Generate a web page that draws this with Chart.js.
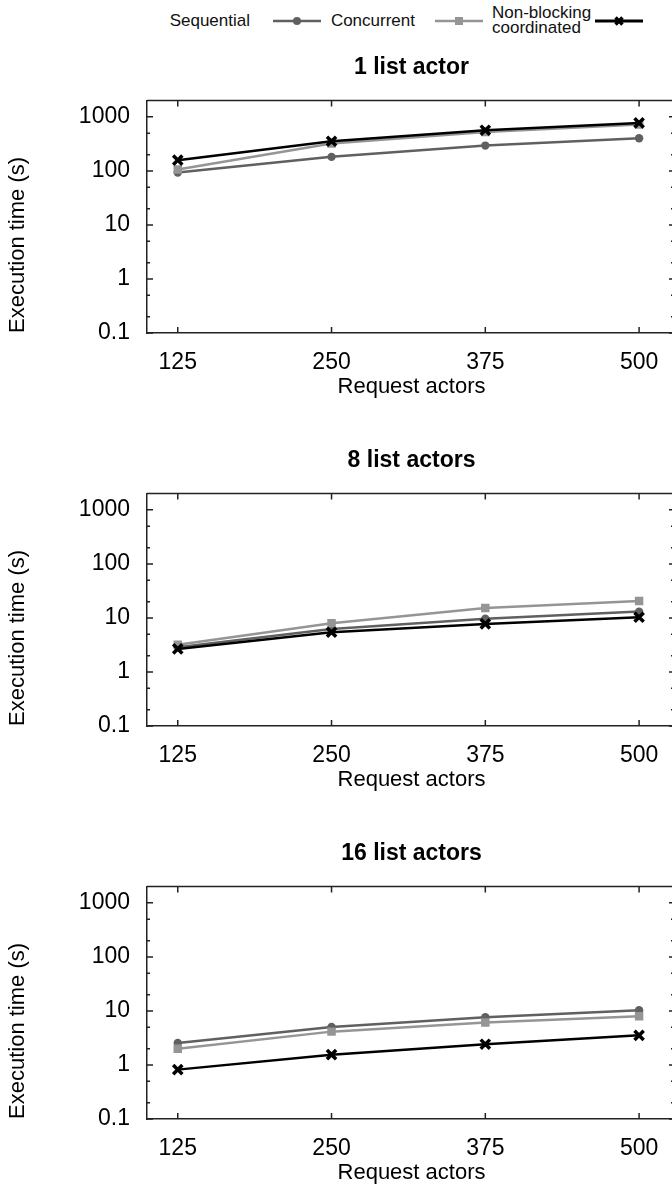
<!DOCTYPE html>
<html>
<head>
<meta charset="utf-8">
<title>Execution time vs request actors</title>
<script src="https://cdn.jsdelivr.net/npm/chart.js@4.4.1/dist/chart.umd.min.js"></script>
<style>
  html, body { margin: 0; padding: 0; background: #fff; }
  body {
    width: 672px; height: 1200px; overflow: hidden; position: relative;
    font-family: 'Liberation Sans', Arial, sans-serif;
  }
  /* canvases run a little past the right edge so the frame's right side is cut off */
  .panel { position: absolute; left: 0; width: 676px; height: 392px; }
  .key { position: absolute; top: 0; left: 0; width: 672px; height: 40px; font-size: 17px; color: #111; }
  .key span { position: absolute; white-space: nowrap; line-height: 20px; }
  .key .two { line-height: 15px; }
  .key svg { position: absolute; }
</style>
</head>
<body>

<div class="key">
  <span style="right: 422px; top: 11px;">Sequential</span>
  <svg style="left: 273px; top: 13px;" width="48" height="16">
    <line x1="0" y1="8" x2="48" y2="8" stroke="#606060" stroke-width="2.5"/>
    <circle cx="24" cy="8" r="4" fill="#606060"/>
  </svg>
  <span style="right: 257px; top: 11px;">Concurrent</span>
  <svg style="left: 435px; top: 13px;" width="48" height="16">
    <line x1="0" y1="8" x2="48" y2="8" stroke="#959595" stroke-width="2.5"/>
    <rect x="20" y="4" width="8" height="8" fill="#959595"/>
  </svg>
  <span class="two" style="left: 492px; top: 5px;">Non-blocking<br>coordinated</span>
  <svg style="left: 595px; top: 13px;" width="48" height="16">
    <line x1="0" y1="8" x2="48" y2="8" stroke="#000" stroke-width="3"/>
    <path d="M20.5 4.5 L27.5 11.5 M27.5 4.5 L20.5 11.5" stroke="#000" stroke-width="3.5"/>
  </svg>
</div>

<canvas id="panel1" class="panel" width="676" height="392" style="top: 40px;"></canvas>
<canvas id="panel2" class="panel" width="676" height="392" style="top: 433px;"></canvas>
<canvas id="panel3" class="panel" width="676" height="392" style="top: 826px;"></canvas>

<script>
// x categories and y tick marks
const requestActors = [125, 250, 375, 500];
const yTickValues = [0.1, 1, 10, 100, 1000];
const yMinorTicks = [0.2, 0.5, 2, 5, 20, 50, 200, 500];
const panelTitles = ['1 list actor', '8 list actors', '16 list actors'];
const seriesNames = ['Sequential', 'Concurrent', 'Non-blocking coordinated'];

// execution time (s), 1 list actor
const sequential1 = [93, 182, 294, 403];
const concurrent1 = [106, 321, 527, 721];
const nonBlocking1 = [158, 354, 566, 774];

// 8 list actors
const sequential8 = [2.86, 6.25, 9.7, 13.1];
const concurrent8 = [3.2, 7.96, 15.3, 20.6];
const nonBlocking8 = [2.67, 5.43, 7.74, 10.3];

// 16 list actors
const sequential16 = [2.55, 5.05, 7.63, 10.3];
const concurrent16 = [2.0, 4.14, 6.08, 7.96];
const nonBlocking16 = [0.82, 1.55, 2.42, 3.54];

const FONT = "'Liberation Sans', Arial, sans-serif";
const FRAME = '#222';

// gnuplot-style frame: top/right edges plus inward ticks on all four sides
const frameTicks = {
    id: 'frameTicks',
    beforeDatasetsDraw(chart) {
        const { ctx, chartArea: a, scales: { x, y } } = chart;
        ctx.save();
        ctx.strokeStyle = FRAME;
        ctx.lineWidth = 1.5;
        ctx.beginPath();
        ctx.moveTo(a.left, a.top);
        ctx.lineTo(a.right, a.top);
        ctx.lineTo(a.right, a.bottom);

        requestActors.forEach(v => {
            const px = x.getPixelForValue(v);
            ctx.moveTo(px, a.bottom); ctx.lineTo(px, a.bottom - 6);
            ctx.moveTo(px, a.top); ctx.lineTo(px, a.top + 6);
        });
        yTickValues.forEach(v => {
            const py = y.getPixelForValue(v);
            ctx.moveTo(a.left, py); ctx.lineTo(a.left + 6, py);
            ctx.moveTo(a.right, py); ctx.lineTo(a.right - 7, py);
        });
        yMinorTicks.forEach(v => {
            const py = y.getPixelForValue(v);
            ctx.moveTo(a.left, py); ctx.lineTo(a.left + 3, py);
            ctx.moveTo(a.right, py); ctx.lineTo(a.right - 5, py);
        });
        ctx.stroke();
        ctx.restore();
    }
};

function series(label, values, color, pointStyle, radius, width, order) {
    return {
        label,
        data: requestActors.map((x, i) => ({ x, y: values[i] })),
        borderColor: color,
        backgroundColor: color,
        borderWidth: width,
        pointStyle,
        pointRadius: radius,
        pointBorderWidth: pointStyle === 'crossRot' ? 3.5 : 0,
        pointBackgroundColor: color,
        pointBorderColor: color,
        tension: 0,
        order
    };
}

function makePanel(id, title, seq, conc, nb) {
    new Chart(document.getElementById(id), {
        type: 'line',
        data: {
            datasets: [
                series(seriesNames[0], seq, '#606060', 'circle', 4.2, 2.5, 3),
                series(seriesNames[1], conc, '#959595', 'rect', 6, 2.5, 2),
                series(seriesNames[2], nb, '#000000', 'crossRot', 6.5, 2.5, 1)
            ]
        },
        options: {
            responsive: false,
            animation: false,
            devicePixelRatio: 1,
            layout: { padding: 0, autoPadding: false },
            plugins: {
                legend: { display: false },
                tooltip: { enabled: false },
                title: {
                    display: true,
                    fullSize: false,
                    text: title,
                    color: '#000',
                    font: { family: FONT, size: 23, weight: 'bold' },
                    padding: { top: 14, bottom: 19 }
                }
            },
            scales: {
                x: {
                    type: 'linear',
                    min: 100,
                    max: 530,
                    afterBuildTicks: s => { s.ticks = requestActors.map(v => ({ value: v })); },
                    afterFit: s => { s.height = 99; s.paddingLeft = 0; s.paddingRight = 0; },
                    grid: { display: false, drawTicks: false },
                    border: { display: true, color: FRAME, width: 1.5 },
                    ticks: { padding: 16, color: '#000', font: { family: FONT, size: 23 }, maxRotation: 0 },
                    title: {
                        display: true,
                        text: 'Request actors',
                        color: '#000',
                        font: { family: FONT, size: 22 },
                        padding: { top: 0, bottom: 32 }
                    }
                },
                y: {
                    type: 'logarithmic',
                    min: 0.1,
                    max: 2000,
                    afterBuildTicks: s => { s.ticks = yTickValues.map(v => ({ value: v })); },
                    afterFit: s => { s.width = 147; },
                    grid: { display: false, drawTicks: false },
                    border: { display: true, color: FRAME, width: 1.5 },
                    ticks: {
                        padding: 17,
                        color: '#000',
                        font: { family: FONT, size: 23 },
                        callback: v => String(v)
                    },
                    title: {
                        display: true,
                        text: 'Execution time (s)',
                        align: 'start',
                        color: '#000',
                        font: { family: FONT, size: 22 },
                        padding: { top: 5, bottom: 0 }
                    }
                }
            }
        },
        plugins: [frameTicks]
    });
}

makePanel('panel1', panelTitles[0], sequential1, concurrent1, nonBlocking1);
makePanel('panel2', panelTitles[1], sequential8, concurrent8, nonBlocking8);
makePanel('panel3', panelTitles[2], sequential16, concurrent16, nonBlocking16);
</script>
</body>
</html>
